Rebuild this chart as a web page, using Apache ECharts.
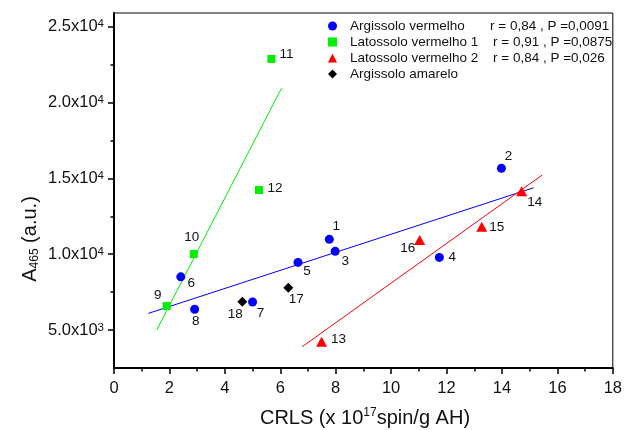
<!DOCTYPE html>
<html>
<head>
<meta charset="utf-8">
<script src="https://cdn.jsdelivr.net/npm/echarts@6/dist/echarts.min.js"></script>
<style>
  html, body { margin: 0; padding: 0; background: #fff; }
  #chart { width: 625px; height: 430px; }
</style>
</head>
<body>
<div id="chart"></div>
<script>
// A465 against CRLS for humic acids of four soil groups, with linear fits.

// Argissolo vermelho (samples 1-8)
const avIds  = [1, 2, 3, 4, 5, 6, 7, 8];
const avCrls = [7.77, 13.98, 7.98, 11.74, 6.64, 2.41, 5.00, 2.91];
const avA465 = [10980, 15660, 10190, 9790, 9460, 8510, 6850, 6370];

// Latossolo vermelho 1 (samples 9-12)
const lv1Ids  = [9, 10, 11, 12];
const lv1Crls = [1.90, 2.88, 5.68, 5.23];
const lv1A465 = [6580, 10010, 22870, 14230];

// Latossolo vermelho 2 (samples 13-16)
const lv2Ids  = [13, 14, 15, 16];
const lv2Crls = [7.49, 14.71, 13.27, 11.03];
const lv2A465 = [4230, 14150, 11810, 10940];

// Argissolo amarelo (samples 17-18)
const aaIds  = [17, 18];
const aaCrls = [6.29, 4.63];
const aaA465 = [7790, 6870];

// Regression line end points
const avFitX  = [1.24, 15.14];
const avFitY  = [6100, 14380];
const lv1FitX = [1.54, 6.05];
const lv1FitY = [5000, 20960];
const lv2FitX = [6.79, 15.45];
const lv2FitY = [3900, 15220];

// Legend entries and fit statistics
const groupNames = ['Argissolo vermelho', 'Latossolo vermelho 1', 'Latossolo vermelho 2', 'Argissolo amarelo'];
const groupStats = ['r = 0,84 , P =0,0091', 'r = 0,91 , P =0,0875', 'r = 0,84 , P =0,026', ''];

// Y tick labels in a x 10^b notation
const yTicks        = [5000, 10000, 15000, 20000, 25000];
const yTickMantissa = ['5.0', '1.0', '1.5', '2.0', '2.5'];
const yTickExponent = ['3', '4', '4', '4', '4'];
const yMinorTicks   = [7500, 12500, 17500, 22500];

// Placement of the sample number next to each marker (pixels)
const labelShift = {
  1: [7, -13], 2: [7, -12], 3: [10, 10], 4: [13, 0], 5: [9, 8.5], 6: [10.5, 6],
  7: [8, 11.5], 8: [1, 11.5], 9: [-9, -11], 10: [-2, -17], 11: [15, -5], 12: [16, -2],
  13: [17, -2], 14: [13, 11], 15: [15, 1], 16: [-12, 8], 17: [8, 11.5], 18: [-7, 12.5]
};

const FONT = '"Liberation Sans", Arial, Helvetica, sans-serif';
const BLUE = '#0000ff', GREEN = '#00f000', RED = '#ff0000', BLACK = '#000000';

function points(ids, xs, ys) {
  return ids.map((id, i) => ({
    value: [xs[i], ys[i]],
    label: { offset: labelShift[id] }
  }));
}

function pairs(xs, ys) {
  return xs.map((x, i) => [x, ys[i]]);
}

function scatter(name, symbol, size, color, ids, xs, ys) {
  return {
    name: name,
    type: 'scatter',
    symbol: symbol,
    symbolSize: size,
    itemStyle: { color: color, opacity: 1 },
    z: 5,
    data: points(ids, xs, ys),
    label: {
      show: true,
      position: 'inside',
      align: 'center',
      verticalAlign: 'middle',
      color: '#111',
      fontFamily: FONT,
      fontSize: 13.5,
      formatter: p => String(ids[p.dataIndex])
    },
    emphasis: { disabled: true }
  };
}

function fitLine(color, xs, ys) {
  return {
    type: 'line',
    data: pairs(xs, ys),
    showSymbol: false,
    symbol: 'none',
    silent: true,
    z: 2,
    lineStyle: { color: color, width: 1 },
    emphasis: { disabled: true }
  };
}

const chart = echarts.init(document.getElementById('chart'), null, { renderer: 'canvas' });

const yLabelRich = {
  b: { fontFamily: FONT, fontSize: 16.5, color: '#111', lineHeight: 17 },
  e: { fontFamily: FONT, fontSize: 11.5, color: '#111', verticalAlign: 'top', lineHeight: 11 }
};

chart.setOption({
  animation: false,
  backgroundColor: '#fff',
  textStyle: { fontFamily: FONT },
  grid: {
    left: 114, right: 10, top: 13, bottom: 62,
    show: true, borderColor: BLACK, borderWidth: 1, backgroundColor: 'transparent'
  },
  legend: {
    orient: 'vertical',
    left: 323,
    top: 13,
    itemWidth: 9,
    itemHeight: 9,
    itemGap: 0,
    selectedMode: false,
    data: [
      { name: groupNames[0], icon: 'circle' },
      { name: groupNames[1], icon: 'rect' },
      { name: groupNames[2], icon: 'triangle' },
      { name: groupNames[3], icon: 'diamond' }
    ],
    formatter: name => {
      const i = groupNames.indexOf(name);
      const n = i === 0 ? 'n1' : 'n2';
      return '{g|}{' + n + '|' + name + '}' + (groupStats[i] ? '{r|' + groupStats[i] + '}' : '');
    },
    textStyle: {
      fontFamily: FONT,
      fontSize: 13.5,
      color: '#111',
      lineHeight: 16,
      rich: {
        g: { width: 8 },
        n1: { width: 140, fontSize: 13.5, lineHeight: 16 },
        n2: { width: 143, fontSize: 13.5, lineHeight: 16 },
        r: { fontSize: 13.5, lineHeight: 16 }
      }
    }
  },
  xAxis: {
    type: 'value',
    min: 0,
    max: 18,
    interval: 2,
    axisLine: { show: true, onZero: false, lineStyle: { color: BLACK, width: 2 } },
    axisTick: { show: true, length: 6, lineStyle: { color: BLACK, width: 1.5 } },
    minorTick: { show: true, splitNumber: 2, length: 3.5, lineStyle: { color: BLACK, width: 1.5 } },
    splitLine: { show: false },
    minorSplitLine: { show: false },
    axisLabel: { color: '#111', fontFamily: FONT, fontSize: 16.5, margin: 12 }
  },
  yAxis: [
    {
      type: 'value',
      min: 2500,
      max: 25900,
      axisLine: { show: true, onZero: false, lineStyle: { color: BLACK, width: 2 } },
      axisTick: { show: true, length: 6, lineStyle: { color: BLACK, width: 1.5 }, customValues: yTicks },
      splitLine: { show: false },
      axisLabel: {
        customValues: yTicks,
        margin: 10,
        rich: yLabelRich,
        formatter: v => {
          const i = yTicks.indexOf(v);
          if (i < 0) return '';
          return '{b|' + yTickMantissa[i] + 'x10}{e|' + yTickExponent[i] + '}';
        }
      }
    },
    {
      type: 'value',
      position: 'left',
      min: 2500,
      max: 25900,
      axisLine: { show: false },
      axisTick: { show: true, length: 3.5, lineStyle: { color: BLACK, width: 1.5 }, customValues: yMinorTicks },
      axisLabel: { show: false },
      splitLine: { show: false }
    }
  ],
  graphic: [
    {
      type: 'text',
      x: 365,
      y: 418,
      style: {
        text: '{m|CRLS (x 10}{s|17}{m|spin/g AH)}',
        align: 'center',
        verticalAlign: 'middle',
        fill: '#111',
        rich: {
          m: { fontFamily: FONT, fontSize: 20, lineHeight: 22, fill: '#111' },
          s: { fontFamily: FONT, fontSize: 12, lineHeight: 12, verticalAlign: 'top', fill: '#111' }
        }
      }
    },
    {
      type: 'text',
      x: 30,
      y: 239,
      rotation: Math.PI / 2,
      style: {
        text: '{m|A}{u|465}{m| (a.u.)}',
        align: 'center',
        verticalAlign: 'middle',
        fill: '#111',
        rich: {
          m: { fontFamily: FONT, fontSize: 20, lineHeight: 22, fill: '#111' },
          u: { fontFamily: FONT, fontSize: 12, lineHeight: 12, verticalAlign: 'bottom', fill: '#111' }
        }
      }
    }
  ],
  series: [
    fitLine(BLUE, avFitX, avFitY),
    fitLine(GREEN, lv1FitX, lv1FitY),
    fitLine(RED, lv2FitX, lv2FitY),
    scatter(groupNames[0], 'circle', 9, BLUE, avIds, avCrls, avA465),
    scatter(groupNames[1], 'rect', 8, GREEN, lv1Ids, lv1Crls, lv1A465),
    scatter(groupNames[2], 'triangle', [11, 10], RED, lv2Ids, lv2Crls, lv2A465),
    scatter(groupNames[3], 'diamond', 10, BLACK, aaIds, aaCrls, aaA465)
  ]
});
</script>
</body>
</html>
